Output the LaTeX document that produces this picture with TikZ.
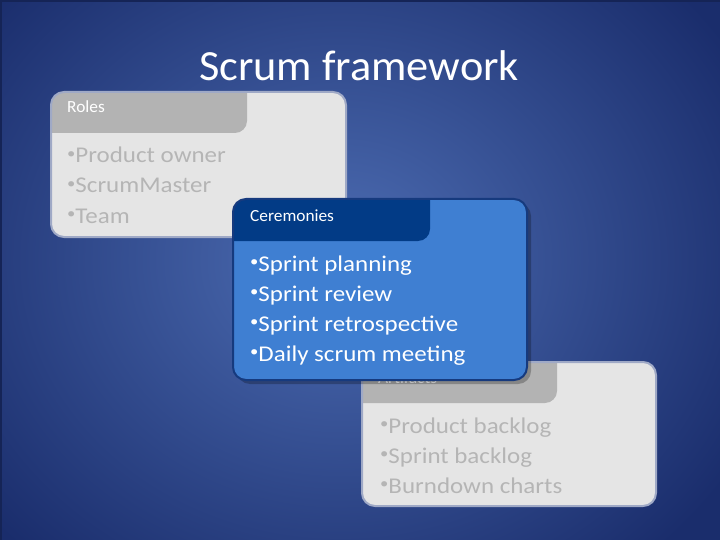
\documentclass[tikz,border=0pt]{standalone}
\usepackage{fontspec}
\setmainfont{Carlito}
\definecolor{bgin}{HTML}{4D6DB3}
\definecolor{bgout}{HTML}{1A2D6C}
\definecolor{gbody}{HTML}{E5E5E5}
\definecolor{gtab}{HTML}{B3B3B3}
\definecolor{gtext}{HTML}{B5B5B5}
\definecolor{gborder}{HTML}{9FA9C6}
\definecolor{bbody}{HTML}{3F7FD2}
\definecolor{btab}{HTML}{023B86}
\definecolor{bborder}{HTML}{163A7E}
\newcommand{\bul}{\raisebox{4.5pt}{\fontsize{15}{15}\selectfont •}}
\tikzset{
  tablabel/.style={anchor=base west, inner sep=0pt, text=white, font=\fontsize{17}{18}\selectfont\addfontfeature{FakeStretch=1.02}},
  bullet/.style={anchor=base west, inner sep=0pt, font=\fontsize{22.5}{26}\selectfont\addfontfeature{FakeStretch=1.11}},
  titletext/.style={anchor=base, inner sep=0pt, text=white, font=\fontsize{43}{48}\selectfont\addfontfeature{FakeStretch=1.03}},
}
% card: #1 x1, #2 y1, #3 x2, #4 y2, #5 tab right x, #6 tab bottom y, #7 body, #8 tab, #9 border
\newcommand{\mycard}[9]{%
  \begin{scope}
    \clip[rounded corners=13pt] (#1,#2) rectangle (#3,#4);
    \fill[#7] (#1,#2) rectangle (#3,#4);
    \fill[#8] (#1-5,#2-5) -- (#5,#2-5) [rounded corners=12pt] -- (#5,#6) [sharp corners] -- (#1-5,#6) -- cycle;
  \end{scope}
  \draw[#9, line width=2pt, rounded corners=13pt] (#1,#2) rectangle (#3,#4);
}
\begin{document}
\begin{tikzpicture}[x=1pt,y=-1pt]
\useasboundingbox (0,0) rectangle (720,540);
\shade[inner color=bgin, outer color=bgout] (-120,-140) rectangle (800,660);
\fill[bgout!80!black] (0,0) rectangle (720,2);
\fill[bgout!80!black] (0,0) rectangle (2,540);

\node[titletext] (title) at (359,81) {Scrum framework};

% Roles
\mycard{51}{92}{346}{237}{247}{133}{gbody}{gtab}{gborder}
\node[tablabel] (roles) at (67,113) {Roles};
\node[bullet, text=gtext] (r1) at (67,163) {\bul Product owner};
\node[bullet, text=gtext] (r2) at (67,193) {\bul ScrumMaster};
\node[bullet, text=gtext] (r3) at (67,223) {\bul Team};

% Artifacts
\mycard{362}{362}{656}{506}{557}{403}{gbody}{gtab}{gborder}
\node[tablabel] (artifacts) at (378,383) {Artifacts};
\node[bullet, text=gtext] (a1) at (380,433) {\bul Product backlog};
\node[bullet, text=gtext] (a2) at (380,463) {\bul Sprint backlog};
\node[bullet, text=gtext] (a3) at (380,493) {\bul Burndown charts};

% Ceremonies (on top)
\fill[black, opacity=0.25, rounded corners=13pt] (237,203) rectangle (531,384);
\mycard{233}{199}{527}{380}{430}{241}{bbody}{btab}{bborder}
\node[tablabel] (ceremonies) at (250,222) {Ceremonies};
\node[bullet, text=white] (c1) at (250,271) {\bul Sprint planning};
\node[bullet, text=white] (c2) at (250,301) {\bul Sprint review};
\node[bullet, text=white] (c3) at (250,331) {\bul Sprint retrospective};
\node[bullet, text=white] (c4) at (250,361) {\bul Daily scrum meeting};
\end{tikzpicture}
\end{document}
